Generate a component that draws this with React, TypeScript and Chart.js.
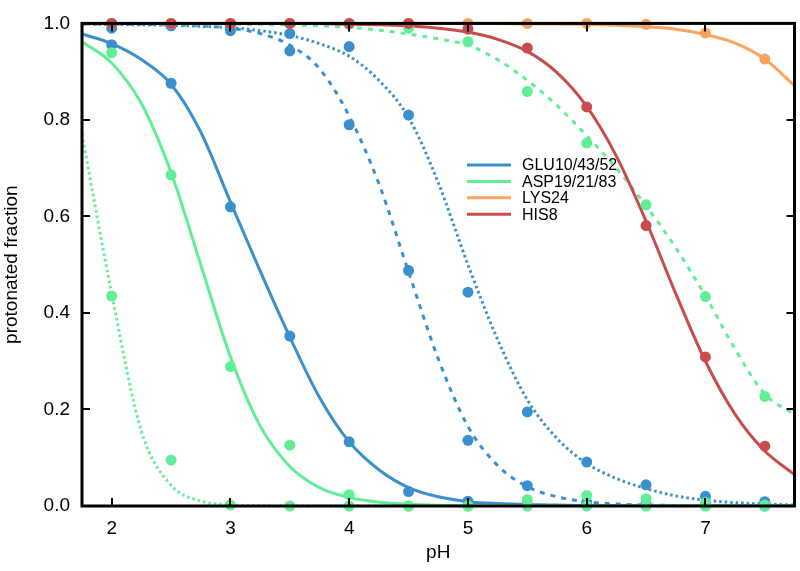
import React, { useEffect, useRef } from 'react';
import { Chart, registerables } from 'chart.js';

Chart.register(...registerables);

const FONT = "'Liberation Sans', Arial, Helvetica, sans-serif";

// pH grid for the fitted curves
const PH_GRID = [1.75, 2, 2.25, 2.5, 2.75, 3, 3.25, 3.5, 3.75, 4, 4.25, 4.5, 4.75, 5, 5.25, 5.5, 5.75, 6, 6.25, 6.5, 6.75, 7, 7.25, 7.5, 7.75];
// pH values of the measured points
const PH_POINTS = [2, 2.5, 3, 3.5, 4, 4.5, 5, 5.5, 6, 6.5, 7, 7.5];

const X_TICKS = [2, 3, 4, 5, 6, 7];
const Y_TICKS = [0, 0.2, 0.4, 0.6, 0.8, 1.0];

// fitted curves
const GLU_SOLID_FIT = [0.978, 0.958, 0.925, 0.874, 0.775, 0.63, 0.487, 0.35, 0.225, 0.133, 0.075, 0.038, 0.019, 0.009, 0.005, 0.003, 0.002, 0.001, 0.001, 0, 0, 0, 0, 0, 0];
const GLU_DASHED_FIT = [0.999, 0.999, 0.998, 0.997, 0.995, 0.99, 0.979, 0.955, 0.906, 0.808, 0.668, 0.485, 0.305, 0.165, 0.084, 0.04, 0.019, 0.009, 0.004, 0.002, 0.001, 0, 0, 0, 0];
const GLU_DOTTED_FIT = [0.999, 0.998, 0.997, 0.996, 0.994, 0.991, 0.985, 0.975, 0.958, 0.932, 0.882, 0.805, 0.67, 0.5, 0.345, 0.22, 0.14, 0.088, 0.057, 0.036, 0.021, 0.012, 0.007, 0.004, 0.002];
const ASP_SOLID_FIT = [0.962, 0.918, 0.834, 0.691, 0.5, 0.309, 0.166, 0.082, 0.038, 0.0175, 0.008, 0.0036, 0.0016, 0.0007, 0.0003, 0, 0, 0, 0, 0, 0, 0, 0, 0, 0];
const ASP_DOTTED_FIT = [0.77, 0.44, 0.155, 0.043, 0.0103, 0.0025, 0.0006, 0.0001, 0, 0, 0, 0, 0, 0, 0, 0, 0, 0, 0, 0, 0, 0, 0, 0, 0];
const ASP_DASHED_FIT = [1.0, 1.0, 1.0, 0.999, 0.999, 0.998, 0.998, 0.997, 0.995, 0.992, 0.986, 0.978, 0.968, 0.955, 0.925, 0.882, 0.83, 0.767, 0.7, 0.622, 0.535, 0.435, 0.325, 0.232, 0.19];
const LYS_FIT = [1, 1, 1, 1, 1, 1, 1, 1, 1, 1, 1, 1, 1, 1, 1, 0.999, 0.999, 0.998, 0.996, 0.993, 0.988, 0.977, 0.959, 0.926, 0.871];
const HIS_FIT = [1, 1, 1, 1, 1, 1, 1, 1, 1, 0.998, 0.997, 0.9945, 0.99, 0.982, 0.967, 0.942, 0.898, 0.828, 0.725, 0.59, 0.44, 0.3, 0.19, 0.114, 0.065];

// measured points
const GLU_SOLID_PTS = [0.956, 0.876, 0.62, 0.352, 0.133, 0.03, 0.01, 0.003, 0.002, 0.001, 0.001, 0.0];
const GLU_DASHED_PTS = [1.0, 0.999, 0.995, 0.943, 0.79, 0.488, 0.136, 0.042, 0.008, 0.004, 0.002, 0.001];
const GLU_DOTTED_PTS = [0.99, 0.995, 0.985, 0.979, 0.952, 0.81, 0.443, 0.195, 0.091, 0.044, 0.02, 0.009];
const ASP_SOLID_PTS = [0.939, 0.686, 0.289, 0.126, 0.0235, 0.0, 0.0, 0.013, 0.022, 0.015, 0.007, 0.002];
const ASP_DOTTED_PTS = [0.435, 0.095, 0.002, 0.0, 0.0, 0.0, 0.0, 0.0, 0.0, 0.0, 0.0, 0.0];
const ASP_DASHED_PTS = [1.0, 1.0, 1.0, 1.0, 0.998, 0.99, 0.962, 0.859, 0.752, 0.624, 0.434, 0.227];
const LYS_PTS = [1.0, 1.0, 1.0, 1.0, 1.0, 1.0, 1.0, 1.0, 1.0, 0.998, 0.98, 0.926];
const HIS_PTS = [1.0, 1.0, 1.0, 1.0, 1.0, 1.0, 0.988, 0.949, 0.827, 0.581, 0.309, 0.124];

const LEGEND_LABELS = ['GLU10/43/52', 'ASP19/21/83', 'LYS24', 'HIS8'];

const BLUE = '#3a90cd';
const GREEN = '#62ee97';
const ORANGE = '#fba35e';
const RED = '#c94c4c';
const LEGEND_COLORS = [BLUE, GREEN, ORANGE, RED];

const DASH = [5, 6];
const DOT = [2.5, 3];

function xy(xs: number[], ys: number[]) {
  return xs.map((x, i) => ({ x, y: ys[i] }));
}

function lineDs(vals: number[], color: string, dash: number[], order: number) {
  return {
    type: 'line' as const,
    data: xy(PH_GRID, vals),
    borderColor: color,
    backgroundColor: color,
    borderWidth: 3,
    borderDash: dash,
    borderCapStyle: 'butt' as const,
    pointRadius: 0,
    fill: false,
    cubicInterpolationMode: 'monotone' as const,
    order,
  };
}

function ptsDs(vals: number[], color: string, order: number) {
  return {
    type: 'scatter' as const,
    data: xy(PH_POINTS, vals),
    borderColor: color,
    backgroundColor: color,
    pointRadius: 5.5,
    pointBorderWidth: 0,
    showLine: false,
    clip: false as any,
    order,
  };
}

const framePlugin = {
  id: 'gnuFrame',
  afterDraw(chart: any) {
    const { ctx, chartArea: a, scales } = chart;
    const xs = scales.x;
    const ys = scales.y;
    ctx.save();
    ctx.strokeStyle = '#000';
    ctx.lineWidth = 2;
    const T = 8;
    ctx.beginPath();
    for (const v of X_TICKS) {
      const px = Math.round(xs.getPixelForValue(v));
      ctx.moveTo(px, a.bottom);
      ctx.lineTo(px, a.bottom - T);
      ctx.moveTo(px, a.top);
      ctx.lineTo(px, a.top + T);
    }
    for (const v of Y_TICKS) {
      const py = Math.round(ys.getPixelForValue(v));
      ctx.moveTo(a.left, py);
      ctx.lineTo(a.left + T, py);
      ctx.moveTo(a.right, py);
      ctx.lineTo(a.right - T, py);
    }
    ctx.stroke();
    ctx.lineWidth = 3;
    ctx.strokeRect(a.left, a.top, a.right - a.left, a.bottom - a.top);

    // key
    const lx0 = 467;
    const lx1 = 511;
    const tx = 522;
    const y0 = 165;
    const dy = 16.4;
    ctx.font = `16px ${FONT}`;
    ctx.textBaseline = 'middle';
    ctx.textAlign = 'left';
    LEGEND_LABELS.forEach((lab, i) => {
      const y = y0 + i * dy;
      ctx.strokeStyle = LEGEND_COLORS[i];
      ctx.lineWidth = 3;
      ctx.beginPath();
      ctx.moveTo(lx0, y);
      ctx.lineTo(lx1, y);
      ctx.stroke();
      ctx.fillStyle = '#000';
      ctx.fillText(lab, tx, y + 1);
    });
    ctx.restore();
  },
};

export default function App() {
  const ref = useRef<HTMLCanvasElement>(null);
  useEffect(() => {
    document.body.style.margin = '0';
    const canvas = ref.current!;
    const chart = new Chart(canvas, {
      type: 'scatter',
      data: {
        datasets: [
          lineDs(GLU_SOLID_FIT, BLUE, [], 28),
          lineDs(GLU_DASHED_FIT, BLUE, DASH, 27),
          lineDs(GLU_DOTTED_FIT, BLUE, DOT, 26),
          lineDs(ASP_SOLID_FIT, GREEN, [], 25),
          lineDs(ASP_DASHED_FIT, GREEN, DASH, 24),
          lineDs(ASP_DOTTED_FIT, GREEN, DOT, 23),
          lineDs(LYS_FIT, ORANGE, [], 22),
          lineDs(HIS_FIT, RED, [], 21),
          ptsDs(GLU_SOLID_PTS, BLUE, 18),
          ptsDs(GLU_DASHED_PTS, BLUE, 17),
          ptsDs(GLU_DOTTED_PTS, BLUE, 16),
          ptsDs(ASP_SOLID_PTS, GREEN, 15),
          ptsDs(ASP_DASHED_PTS, GREEN, 14),
          ptsDs(ASP_DOTTED_PTS, GREEN, 13),
          ptsDs(LYS_PTS, ORANGE, 12),
          ptsDs(HIS_PTS, RED, 11),
        ] as any,
      },
      options: {
        responsive: false,
        animation: false,
        devicePixelRatio: 1,
        layout: { padding: { top: 9, right: 4, left: 0, bottom: 0 } },
        plugins: {
          legend: { display: false },
          tooltip: { enabled: false },
        },
        scales: {
          x: {
            type: 'linear',
            min: 1.75,
            max: 7.75,
            afterBuildTicks: (s: any) => {
              s.ticks = X_TICKS.map((v) => ({ value: v }));
            },
            afterFit: (s: any) => {
              s.height = 65;
            },
            grid: { display: false, drawTicks: false },
            border: { display: false },
            ticks: {
              color: '#000',
              font: { family: FONT, size: 19 },
              padding: 11,
              maxRotation: 0,
              callback: (v: any) => String(v),
            },
            title: {
              display: true,
              text: 'pH',
              color: '#000',
              font: { family: FONT, size: 19 },
              padding: { top: 4, bottom: 7 },
            },
          },
          y: {
            type: 'linear',
            min: 0,
            max: 1,
            afterBuildTicks: (s: any) => {
              s.ticks = Y_TICKS.map((v) => ({ value: v }));
            },
            afterFit: (s: any) => {
              s.width = 82;
            },
            grid: { display: false, drawTicks: false },
            border: { display: false },
            ticks: {
              color: '#000',
              font: { family: FONT, size: 19 },
              padding: 12,
              callback: (v: any) => Number(v).toFixed(1),
            },
            title: {
              display: true,
              text: 'protonated fraction',
              color: '#000',
              font: { family: FONT, size: 19 },
              padding: { top: 0, bottom: 4 },
            },
          },
        },
      },
      plugins: [framePlugin],
    });
    return () => chart.destroy();
  }, []);
  return (
    <div style={{ position: 'absolute', left: 0, top: 0, width: 800, height: 571 }}>
      <canvas ref={ref} width={800} height={571} style={{ display: 'block', width: 800, height: 571 }} />
    </div>
  );
}
